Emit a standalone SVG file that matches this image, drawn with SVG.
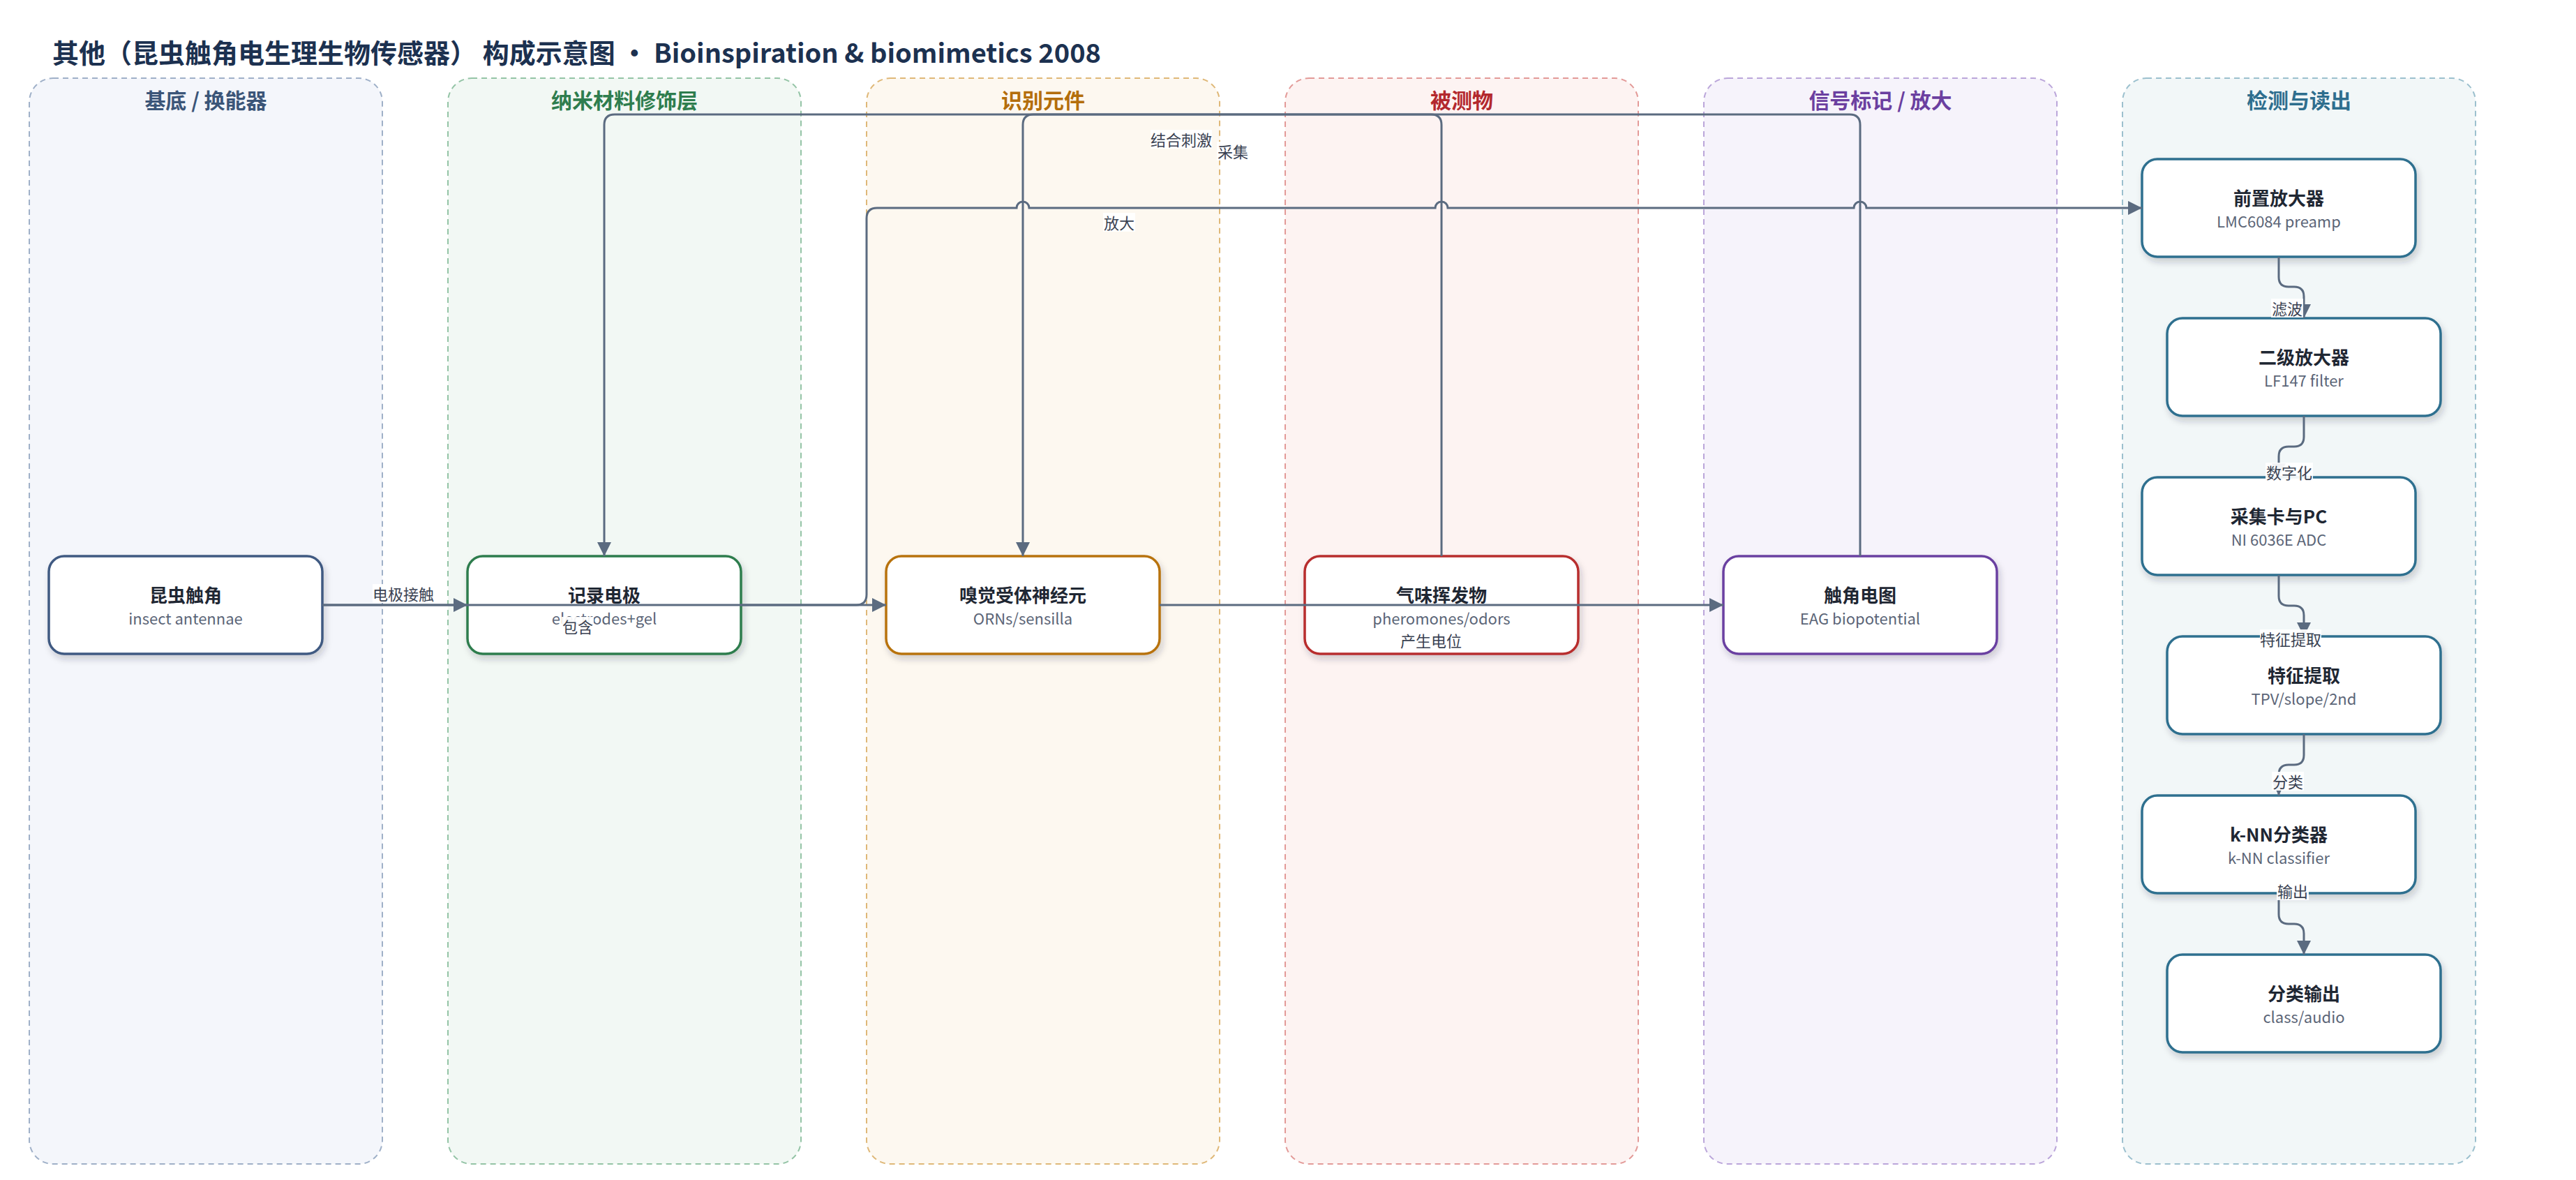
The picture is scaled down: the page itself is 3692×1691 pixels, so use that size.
<svg xmlns="http://www.w3.org/2000/svg" width="3692" height="1691" viewBox="0 0 3692 1691">
<style>
text{font-family:"Noto Sans CJK SC","Noto Sans",sans-serif}
.title{font-size:38px;font-weight:700;fill:#1c3150}
.lane{stroke-width:2;stroke-dasharray:8 6}
.lt{font-size:30px;font-weight:700;text-anchor:middle}
.nb{fill:#fff;stroke-width:3.5}
.nt{font-size:26px;font-weight:700;fill:#1f2733;text-anchor:middle}
.ns{font-size:22px;fill:#5b6577;text-anchor:middle}
.e{fill:none;stroke:#5b6b80;stroke-width:3}
.lb{fill:#fff;fill-opacity:0.92}
.el{font-size:22px;fill:#3a4252;text-anchor:middle;dominant-baseline:central}
</style>
<defs>
<marker id="ar" viewBox="0 0 20 20" refX="20" refY="10" markerWidth="20" markerHeight="20" markerUnits="userSpaceOnUse" orient="auto">
<path d="M0 0 L20 10 L0 20 Z" fill="#5b6b80"/>
</marker>
<filter id="sh" x="-10%" y="-20%" width="130%" height="150%">
<feDropShadow dx="3" dy="6" stdDeviation="5" flood-color="#1f2937" flood-opacity="0.2"/>
</filter>
</defs>
<rect width="3692" height="1691" fill="#fff"/>
<text class="title" x="75" y="90" xml:space="preserve">其他（昆虫触角电生理生物传感器） 构成示意图 · Bioinspiration &amp; biomimetics 2008</text>

<g id="lane-substrate">
<rect class="lane" x="42" y="112" width="506" height="1556" rx="34" fill="#f4f6fb" stroke="#9fb0c8"/>
<text class="lt" x="295" y="155" fill="#3b5578">基底 / 换能器</text>
</g>
<g id="lane-nano">
<rect class="lane" x="642" y="112" width="506" height="1556" rx="34" fill="#f2f8f4" stroke="#94c4a6"/>
<text class="lt" x="895" y="155" fill="#2e7d4e">纳米材料修饰层</text>
</g>
<g id="lane-recog">
<rect class="lane" x="1242" y="112" width="506" height="1556" rx="34" fill="#fdf8f0" stroke="#dfb878"/>
<text class="lt" x="1495" y="155" fill="#b46e0c">识别元件</text>
</g>
<g id="lane-analyte">
<rect class="lane" x="1842" y="112" width="506" height="1556" rx="34" fill="#fdf3f2" stroke="#e39a98"/>
<text class="lt" x="2095" y="155" fill="#b3282d">被测物</text>
</g>
<g id="lane-signal">
<rect class="lane" x="2442" y="112" width="506" height="1556" rx="34" fill="#f6f3fb" stroke="#bba6da"/>
<text class="lt" x="2695" y="155" fill="#6b3fa0">信号标记 / 放大</text>
</g>
<g id="lane-readout">
<rect class="lane" x="3042" y="112" width="506" height="1556" rx="34" fill="#f2f7f8" stroke="#9cc0ce"/>
<text class="lt" x="3295" y="155" fill="#2e6e8e">检测与读出</text>
</g>

<g id="n-antenna">
<rect class="nb" x="70" y="797" width="392" height="140" rx="22" stroke="#3f5a82" filter="url(#sh)"/>
<text class="nt" x="266" y="863">昆虫触角</text>
<text class="ns" x="266" y="895">insect antennae</text>
</g>
<g id="n-electrode">
<rect class="nb" x="670" y="797" width="392" height="140" rx="22" stroke="#2e7d4e" filter="url(#sh)"/>
<text class="nt" x="866" y="863">记录电极</text>
<text class="ns" x="866" y="895">electrodes+gel</text>
</g>
<g id="n-orn">
<rect class="nb" x="1270" y="797" width="392" height="140" rx="22" stroke="#b8730f" filter="url(#sh)"/>
<text class="nt" x="1466" y="863">嗅觉受体神经元</text>
<text class="ns" x="1466" y="895">ORNs/sensilla</text>
</g>
<g id="n-odor">
<rect class="nb" x="1870" y="797" width="392" height="140" rx="22" stroke="#b82e2e" filter="url(#sh)"/>
<text class="nt" x="2066" y="863">气味挥发物</text>
<text class="ns" x="2066" y="895">pheromones/odors</text>
</g>
<g id="n-eag">
<rect class="nb" x="2470" y="797" width="392" height="140" rx="22" stroke="#6b41a1" filter="url(#sh)"/>
<text class="nt" x="2666" y="863">触角电图</text>
<text class="ns" x="2666" y="895">EAG biopotential</text>
</g>
<g id="n-preamp">
<rect class="nb" x="3070" y="228" width="392" height="140" rx="22" stroke="#2f6f8f" filter="url(#sh)"/>
<text class="nt" x="3266" y="294">前置放大器</text>
<text class="ns" x="3266" y="326">LMC6084 preamp</text>
</g>
<g id="n-amp2">
<rect class="nb" x="3106" y="456" width="392" height="140" rx="22" stroke="#2f6f8f" filter="url(#sh)"/>
<text class="nt" x="3302" y="522">二级放大器</text>
<text class="ns" x="3302" y="554">LF147 filter</text>
</g>
<g id="n-daq">
<rect class="nb" x="3070" y="684" width="392" height="140" rx="22" stroke="#2f6f8f" filter="url(#sh)"/>
<text class="nt" x="3266" y="750">采集卡与PC</text>
<text class="ns" x="3266" y="782">NI 6036E ADC</text>
</g>
<g id="n-feat">
<rect class="nb" x="3106" y="912" width="392" height="140" rx="22" stroke="#2f6f8f" filter="url(#sh)"/>
<text class="nt" x="3302" y="978">特征提取</text>
<text class="ns" x="3302" y="1010">TPV/slope/2nd</text>
</g>
<g id="n-knn">
<rect class="nb" x="3070" y="1140" width="392" height="140" rx="22" stroke="#2f6f8f" filter="url(#sh)"/>
<text class="nt" x="3266" y="1206">k-NN分类器</text>
<text class="ns" x="3266" y="1238">k-NN classifier</text>
</g>
<g id="n-out">
<rect class="nb" x="3106" y="1368" width="392" height="140" rx="22" stroke="#2f6f8f" filter="url(#sh)"/>
<text class="nt" x="3302" y="1434">分类输出</text>
<text class="ns" x="3302" y="1466">class/audio</text>
</g>

<g id="connectors">
<path class="e" d="M462 867 H670" marker-end="url(#ar)"/>
<path class="e" d="M462 867 H1270" marker-end="url(#ar)"/>
<path class="e" d="M1062 867 H1227 Q1242 867 1242 852 V313 Q1242 298 1257 298 H1457 A9 9 0 0 1 1475 298 H2057 A9 9 0 0 1 2075 298 H2657 A9 9 0 0 1 2675 298 H3070" marker-end="url(#ar)"/>
<path class="e" d="M2066 797 V179 Q2066 164 2051 164 H1481 Q1466 164 1466 179 V797" marker-end="url(#ar)"/>
<path class="e" d="M2666 797 V179 Q2666 164 2651 164 H881 Q866 164 866 179 V797" marker-end="url(#ar)"/>
<path class="e" d="M1662 867 H2470" marker-end="url(#ar)"/>
<path class="e" d="M3266 368 V397 Q3266 411 3280 411 H3288 Q3302 411 3302 425 V456" marker-end="url(#ar)"/>
<path class="e" d="M3302 596 V626 Q3302 640 3288 640 H3280 Q3266 640 3266 654 V684" marker-end="url(#ar)"/>
<path class="e" d="M3266 824 V854 Q3266 868 3280 868 H3288 Q3302 868 3302 882 V912" marker-end="url(#ar)"/>
<path class="e" d="M3302 1052 V1082 Q3302 1096 3288 1096 H3280 Q3266 1096 3266 1110 V1140" marker-end="url(#ar)"/>
<path class="e" d="M3266 1280 V1310 Q3266 1324 3280 1324 H3288 Q3302 1324 3302 1338 V1368" marker-end="url(#ar)"/>
</g>

<g id="edge-labels">
<rect class="lb" x="534" y="837" width="88" height="27"/><text class="el" x="578" y="850">电极接触</text>
<rect class="lb" x="805" y="884" width="46" height="27"/><text class="el" x="828" y="897">包含</text>
<rect class="lb" x="1581" y="305" width="46" height="27"/><text class="el" x="1604" y="318">放大</text>
<rect class="lb" x="1649" y="186" width="88" height="27"/><text class="el" x="1693" y="199">结合刺激</text>
<rect class="lb" x="1744" y="203" width="46" height="27"/><text class="el" x="1767" y="216">采集</text>
<rect class="lb" x="2007" y="904" width="88" height="27"/><text class="el" x="2051" y="917">产生电位</text>
<rect class="lb" x="3255" y="428" width="46" height="27"/><text class="el" x="3278" y="441">滤波</text>
<rect class="lb" x="3247" y="663" width="68" height="27"/><text class="el" x="3281" y="676">数字化</text>
<rect class="lb" x="3239" y="902" width="88" height="27"/><text class="el" x="3283" y="915">特征提取</text>
<rect class="lb" x="3256" y="1106" width="46" height="27"/><text class="el" x="3279" y="1119">分类</text>
<rect class="lb" x="3263" y="1263" width="46" height="27"/><text class="el" x="3286" y="1276">输出</text>
</g>
</svg>
